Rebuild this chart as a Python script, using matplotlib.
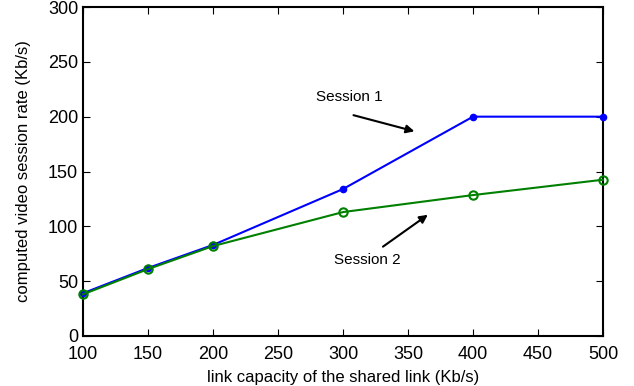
import matplotlib
matplotlib.use('Agg')
import matplotlib.pyplot as plt

plt.rcParams['font.family'] = ['Liberation Sans', 'DejaVu Sans']

# Data
capacity = [100, 150, 200, 300, 400, 500]
session1 = [39, 62, 83, 134, 200, 200]
session2 = [38, 61, 82, 113, 128.5, 142.5]

fig = plt.figure(figsize=(6.34, 3.86), dpi=100)
ax = fig.add_axes([83 / 634, 50 / 386, 520 / 634, 329 / 386])

ax.plot(capacity, session1, color='#0000ff', marker='o', markersize=4.5,
        linewidth=1.5, clip_on=False, zorder=3)
ax.plot(capacity, session2, color='#008000', marker='o', markersize=6,
        markerfacecolor='none', markeredgewidth=1.5, linewidth=1.5,
        clip_on=False, zorder=4)

ax.set_xlim(100, 500)
ax.set_ylim(0, 300)
ax.set_xticks(range(100, 501, 50))
ax.set_yticks(range(0, 301, 50))
ax.tick_params(direction='in', labelsize=13, top=True, right=True,
               length=5, width=0.8)
ax.tick_params(axis='x', pad=7)
for s in ax.spines.values():
    s.set_linewidth(1.5)

ax.set_xlabel('link capacity of the shared link (Kb/s)', fontsize=12,
              labelpad=5)
ax.set_ylabel('computed video session rate (Kb/s)', fontsize=12,
              labelpad=12)

# Annotations
ax.annotate('', xy=(357, 186), xytext=(306, 202),
            arrowprops=dict(arrowstyle='-|>', color='black', lw=1.5,
                            mutation_scale=12))
ax.text(305, 218, 'Session 1', fontsize=11, ha='center', va='center')
ax.annotate('', xy=(367, 112), xytext=(329, 80),
            arrowprops=dict(arrowstyle='-|>', color='black', lw=1.5,
                            mutation_scale=12))
ax.text(319, 69, 'Session 2', fontsize=11, ha='center', va='center')

plt.savefig('out.png', dpi=100)
